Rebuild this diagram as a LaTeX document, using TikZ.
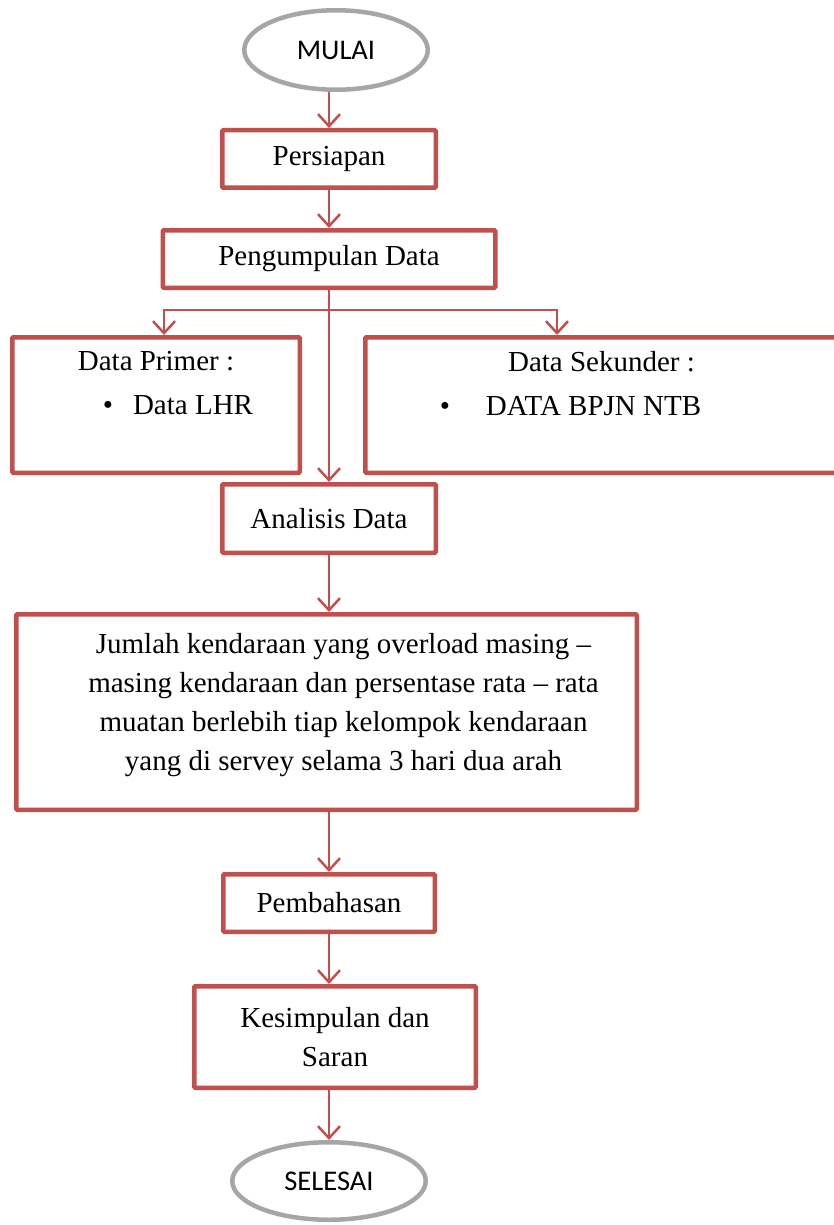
\documentclass[tikz,border=0pt]{standalone}
\usepackage{fontspec}
\setmainfont{Liberation Serif}
\newfontfamily\calibri{Carlito}
\usetikzlibrary{arrows.meta,positioning,shapes.geometric}
\definecolor{boxred}{HTML}{C0504D}
\definecolor{ovalgray}{HTML}{A6A6A6}

\begin{document}
\begin{tikzpicture}[x=1pt,y=-1pt, every node/.style={align=center}]
\tikzset{
  kotak/.style={draw=boxred,line width=4.5pt,rounded corners=1pt,fill=white,font=\fontsize{29}{39}\selectfont},
  oval/.style={ellipse,draw=ovalgray,line width=4.5pt,font=\calibri\fontsize{28.5}{34}\selectfont},
  panah/.style={draw=boxred,line width=2.5pt,-{Straight Barb[length=12pt,width=22pt]}}
}
\useasboundingbox (0,0) rectangle (834,1225);
\clip (0,0) rectangle (834,1225);

\node[oval,minimum width=183.5pt,minimum height=79.5pt] (mulai) at (336,50) {MULAI};
\node[kotak,minimum width=213.5pt,minimum height=57.5pt,below=36pt of mulai,xshift=-7pt] (persiapan) {Persiapan};
\node[kotak,minimum width=332.5pt,minimum height=57.5pt,below=38pt of persiapan] (kumpul) {Pengumpulan Data};
\node[kotak,minimum width=287.5pt,minimum height=135.5pt,font=\fontsize{29}{44}\selectfont] (primer) at (156,405)
  {Data Primer :\\\hspace*{44pt}\textbullet\hspace{20pt}Data LHR\\\mbox{}};
\node[kotak,minimum width=472.5pt,minimum height=135.5pt,font=\fontsize{29}{44}\selectfont] (sekunder) at (601.5,405)
  {Data Sekunder :\\\textbullet\hspace{36pt}DATA BPJN NTB\hspace{62pt}\mbox{}\\\mbox{}};
\node[kotak,minimum width=213.5pt,minimum height=68.5pt,below=192pt of kumpul] (analisis) {Analisis Data};
\node[kotak,minimum width=620.5pt,minimum height=195.5pt,below=57pt of analisis,xshift=-2.5pt] (jumlah)
  {\hspace*{34pt}\begin{tabular}{@{}c@{}}Jumlah kendaraan yang overload masing --\\masing kendaraan dan persentase rata -- rata\\muatan berlebih tiap kelompok kendaraan\\yang di servey selama 3 hari dua arah\\[16pt]\end{tabular}};
\node[kotak,minimum width=211.5pt,minimum height=57.5pt,below=60pt of jumlah,xshift=2.5pt] (bahas) {Pembahasan};
\node[kotak,minimum width=281.5pt,minimum height=101.5pt,below=50pt of bahas,xshift=6pt] (simpul) {Kesimpulan dan\\Saran};
\node[oval,minimum width=193.5pt,minimum height=77.5pt,below=50pt of simpul,xshift=-6pt] (selesai) {SELESAI};

% cabang ke data primer dan sekunder
\coordinate[below=20pt of kumpul.south] (cabang);
\coordinate (kiri) at (primer.north -| 164,0);
\coordinate (kanan) at (sekunder.north -| 557,0);

\draw[panah] (persiapan.north |- mulai.south) -- (persiapan.north);
\draw[panah] (persiapan) -- (kumpul);
\draw[panah] (kumpul) -- (analisis);
\draw[panah] (cabang) -| (kiri);
\draw[panah] (cabang) -| (kanan);
\draw[panah] (analisis) -- (analisis.south |- jumlah.north);
\draw[panah] (bahas.north |- jumlah.south) -- (bahas);
\draw[panah] (bahas) -- (bahas.south |- simpul.north);
\draw[panah] (selesai.north |- simpul.south) -- (selesai);
\end{tikzpicture}
\end{document}
